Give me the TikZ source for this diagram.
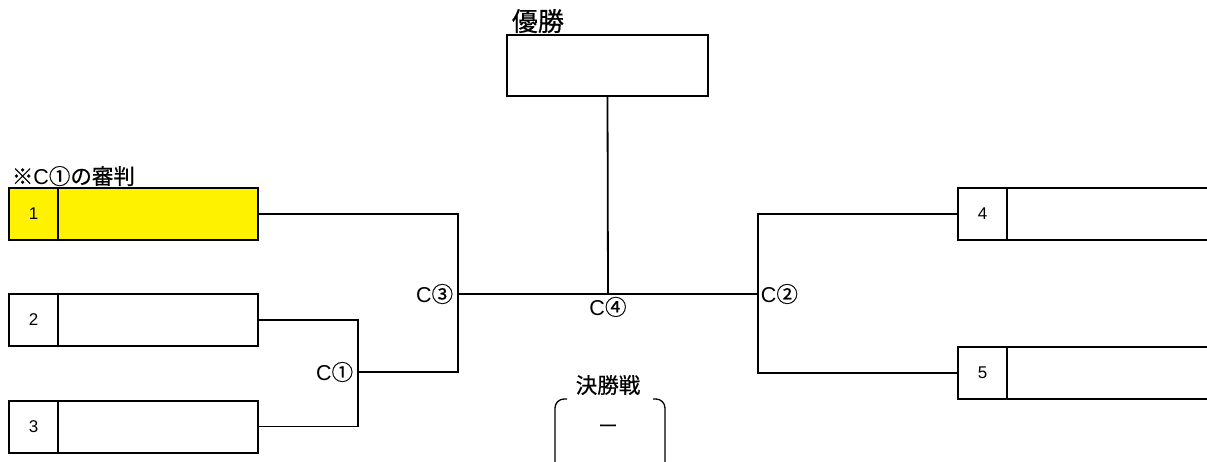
\documentclass[tikz,border=0pt]{standalone}
\usepackage{fontspec}
\setmainfont{Noto Sans CJK JP}[FakeBold=0.6]
\newfontfamily\latn{Liberation Sans}
\usetikzlibrary{positioning}

\begin{document}
\begin{tikzpicture}[x=1pt,y=-1pt,line width=1.8pt,
		numbox/.style={draw,line width=2pt,outer sep=0pt,inner sep=0pt,minimum width=49pt,minimum height=52pt,font=\latn\fontsize{17}{20}\selectfont},
		namebox/.style={draw,line width=2pt,outer sep=0pt,inner sep=0pt,minimum width=200pt,minimum height=52pt},
		lbl/.style={inner sep=1pt,font=\fontsize{21.5}{24}\selectfont}]
		\useasboundingbox (0,0) rectangle (1207,461);
		\clip (0,0) rectangle (1207,461);

		\node[numbox,fill=yellow] (n1) at (33.5,214) {1};
		\node[namebox,fill=yellow,right=0pt of n1] (p1) {};
		\node[numbox] (n2) at (33.5,320) {2};
		\node[namebox,right=0pt of n2] (p2) {};
		\node[numbox] (n3) at (33.5,426.5) {3};
		\node[namebox,right=0pt of n3] (p3) {};
		\node[numbox] (n4) at (982.5,214) {4};
		\node[namebox,minimum width=210pt,right=0pt of n4] (p4) {};
		\node[numbox] (n5) at (982.5,373) {5};
		\node[namebox,minimum width=210pt,right=0pt of n5] (p5) {};
		\node[lbl,anchor=south west] (ref) at (10,188) {※{\latn C}①の審判};

		\node[draw,line width=2pt,outer sep=0pt,minimum width=201pt,minimum height=61pt] (win) at (607.5,65.5) {};
		\node[lbl,font=\fontsize{26}{28}\selectfont,anchor=south west] (winlbl) at (510,35) {優勝};

		\coordinate (j1) at (358,372);
		\coordinate (j3) at (458,294);
		\coordinate (j2) at (758,294);
		\coordinate (j4) at (608,294);

		\draw (p2.east) -| (j1) |- (p3.east);
		\draw (p1.east) -| (j3 |- j1) -- (j1);
		\draw (j3) -- (j2);
		\draw (n4.west) -| (j2 |- n5.west) -- (n5.west);
		\draw (win.south) -- (j4);

		\node[lbl,left=3pt] at (j1) {{\latn C}①};
		\node[lbl,left=3pt] at (j3) {{\latn C}③};
		\node[lbl,right=1pt] at (j2) {{\latn C}②};
		\node[lbl,below=1pt] at (j4) {{\latn C}④};

		\node[lbl] (fin) at (608,385) {決勝戦};
		\node[lbl] (score) at (608,429) {－};
		\draw[line width=1.3pt,rounded corners=9pt] (567,399) -- (555,399) -- (555,480) -- (567,480);
		\draw[line width=1.3pt,rounded corners=9pt] (653,399) -- (665,399) -- (665,480) -- (653,480);
	\end{tikzpicture}
\end{document}
